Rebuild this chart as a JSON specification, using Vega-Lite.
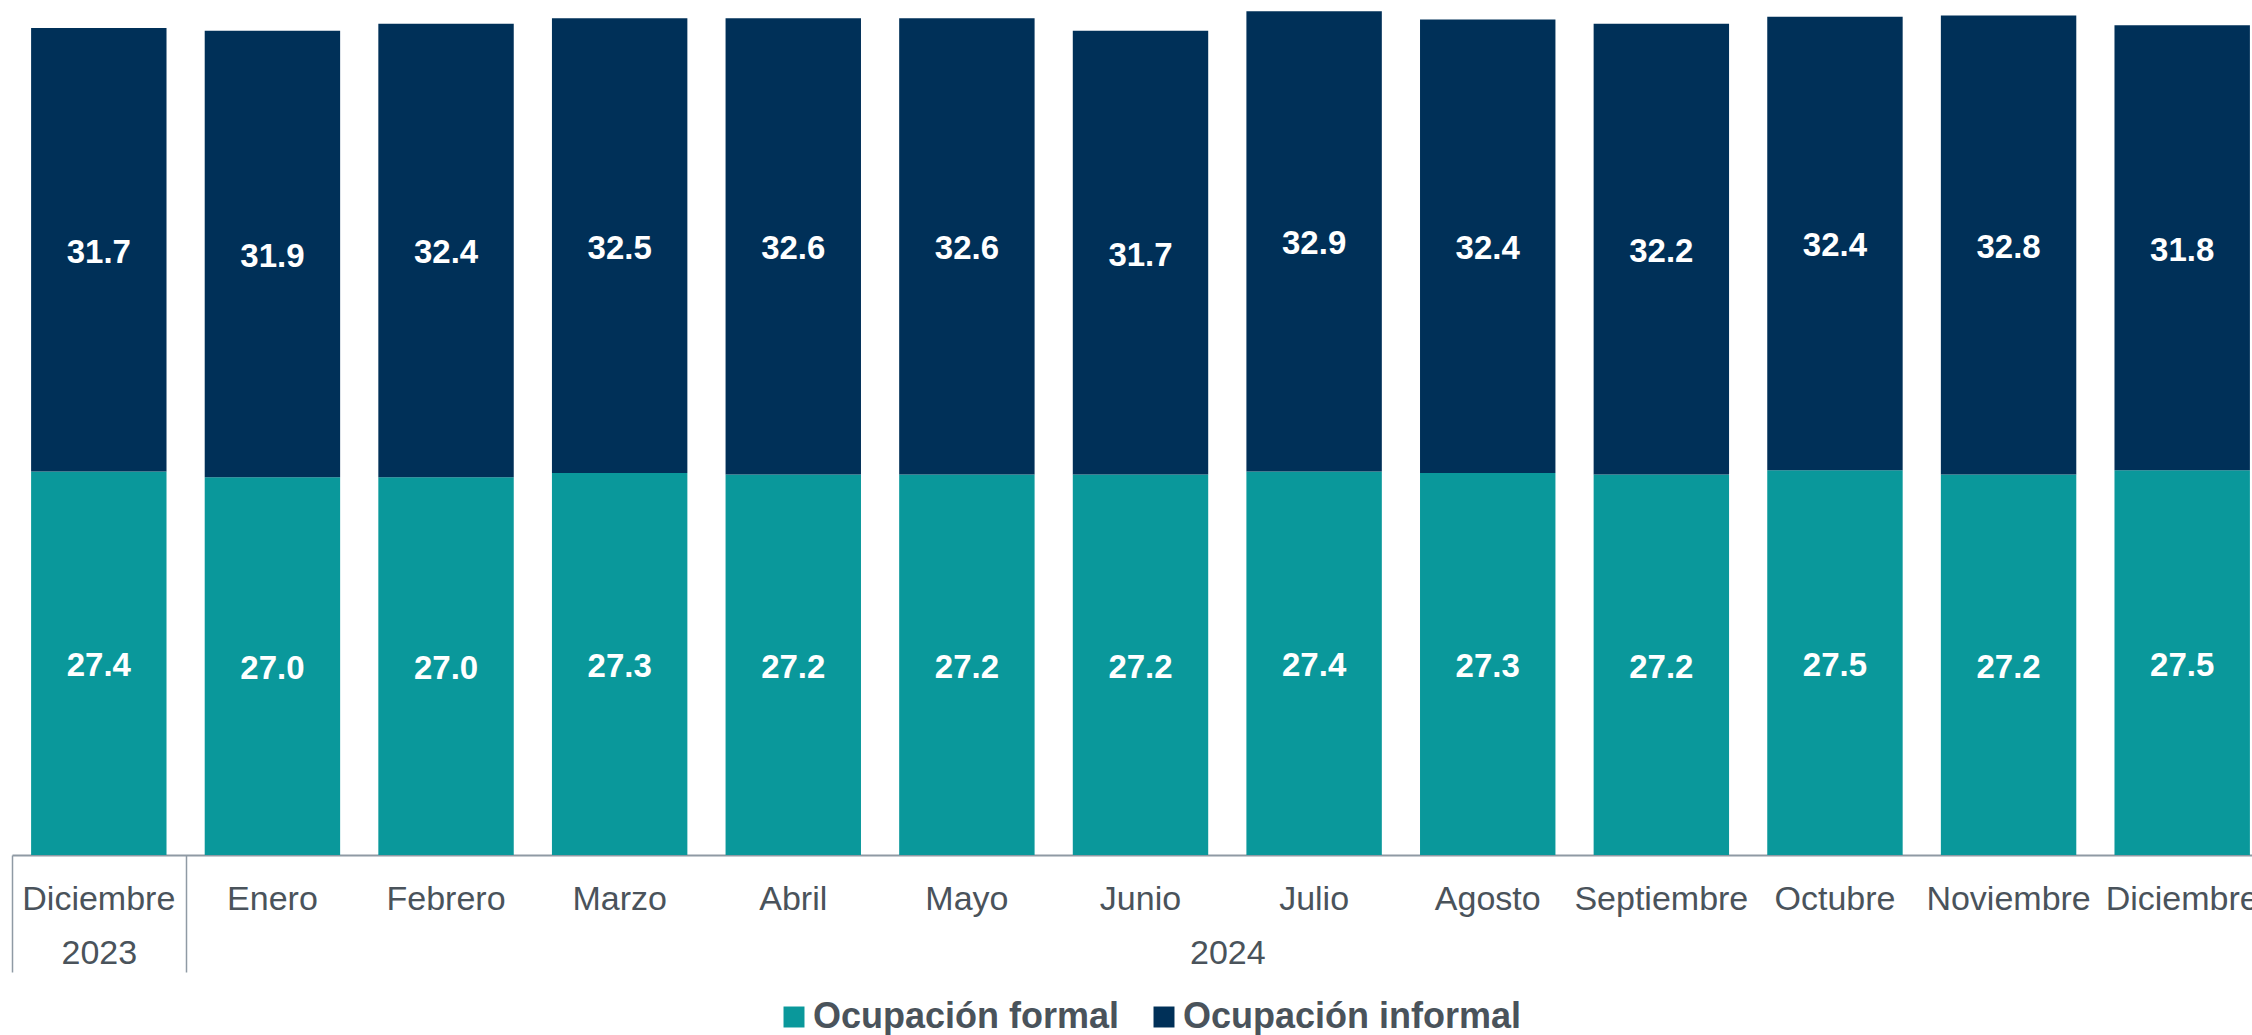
{
  "$schema": "https://vega.github.io/schema/vega-lite/v6.json",
  "autosize": {"type": "none"},
  "padding": {"left": 12, "top": 0, "right": 0, "bottom": 180},
  "width": 2240,
  "height": 855,
  "config": {"view": {"stroke": null}, "font": "Liberation Sans"},
  "layer": [
    {
      "data": {"values": [
        {"idx": 0, "tipo": "Ocupación formal", "orden": 0, "valor": 27.4},
        {"idx": 0, "tipo": "Ocupación informal", "orden": 1, "valor": 31.7},
        {"idx": 1, "tipo": "Ocupación formal", "orden": 0, "valor": 27.0},
        {"idx": 1, "tipo": "Ocupación informal", "orden": 1, "valor": 31.9},
        {"idx": 2, "tipo": "Ocupación formal", "orden": 0, "valor": 27.0},
        {"idx": 2, "tipo": "Ocupación informal", "orden": 1, "valor": 32.4},
        {"idx": 3, "tipo": "Ocupación formal", "orden": 0, "valor": 27.3},
        {"idx": 3, "tipo": "Ocupación informal", "orden": 1, "valor": 32.5},
        {"idx": 4, "tipo": "Ocupación formal", "orden": 0, "valor": 27.2},
        {"idx": 4, "tipo": "Ocupación informal", "orden": 1, "valor": 32.6},
        {"idx": 5, "tipo": "Ocupación formal", "orden": 0, "valor": 27.2},
        {"idx": 5, "tipo": "Ocupación informal", "orden": 1, "valor": 32.6},
        {"idx": 6, "tipo": "Ocupación formal", "orden": 0, "valor": 27.2},
        {"idx": 6, "tipo": "Ocupación informal", "orden": 1, "valor": 31.7},
        {"idx": 7, "tipo": "Ocupación formal", "orden": 0, "valor": 27.4},
        {"idx": 7, "tipo": "Ocupación informal", "orden": 1, "valor": 32.9},
        {"idx": 8, "tipo": "Ocupación formal", "orden": 0, "valor": 27.3},
        {"idx": 8, "tipo": "Ocupación informal", "orden": 1, "valor": 32.4},
        {"idx": 9, "tipo": "Ocupación formal", "orden": 0, "valor": 27.2},
        {"idx": 9, "tipo": "Ocupación informal", "orden": 1, "valor": 32.2},
        {"idx": 10, "tipo": "Ocupación formal", "orden": 0, "valor": 27.5},
        {"idx": 10, "tipo": "Ocupación informal", "orden": 1, "valor": 32.4},
        {"idx": 11, "tipo": "Ocupación formal", "orden": 0, "valor": 27.2},
        {"idx": 11, "tipo": "Ocupación informal", "orden": 1, "valor": 32.8},
        {"idx": 12, "tipo": "Ocupación formal", "orden": 0, "valor": 27.5},
        {"idx": 12, "tipo": "Ocupación informal", "orden": 1, "valor": 31.8}
      ]},
      "encoding": {
        "x": {
          "field": "idx", "type": "ordinal",
          "scale": {"range": [0, 2257], "paddingInner": 0.22, "paddingOuter": 0.11},
          "axis": {
            "orient": "bottom",
            "title": null,
            "ticks": false,
            "domainColor": "#8f9aa4",
            "domainWidth": 2,
            "labelAngle": 0,
            "labelFont": "Liberation Sans",
            "labelFontSize": 34,
            "labelColor": "#4a535b",
            "labelBaseline": "middle",
            "labelPadding": 44,
            "labelOverlap": false,
            "labelBound": false,
            "labelExpr": "['Diciembre','Enero','Febrero','Marzo','Abril','Mayo','Junio','Julio','Agosto','Septiembre','Octubre','Noviembre','Diciembre'][datum.value]"
          }
        },
        "y": {
          "field": "valor", "type": "quantitative", "stack": "zero",
          "scale": {"domain": [0, 61.1], "nice": false},
          "axis": null
        },
        "order": {"field": "orden", "type": "quantitative", "sort": "ascending"}
      },
      "layer": [
        {
          "mark": {"type": "bar"},
          "encoding": {
            "color": {
              "field": "tipo", "type": "nominal",
              "scale": {"domain": ["Ocupación formal", "Ocupación informal"], "range": ["#0a989b", "#003058"]},
              "legend": {
                "orient": "none",
                "legendX": 764,
                "legendY": 999,
                "direction": "horizontal",
                "title": null,
                "symbolType": "square",
                "symbolSize": 440,
                "symbolStrokeWidth": 0,
                "labelFont": "Liberation Sans",
                "labelFontSize": 36,
                "labelFontWeight": "bold",
                "labelColor": "#4a535b",
                "labelLimit": 0,
                "labelOffset": 1,
                "columnPadding": 26,
                "padding": 0
              }
            }
          }
        },
        {
          "mark": {
            "type": "text", "color": "white", "fontWeight": "bold", "fontSize": 33,
            "font": "Liberation Sans", "baseline": "middle",
            "dy": {"expr": "(scale('y', 0) - scale('y', datum.valor)) / 2 + 3"}
          },
          "encoding": {
            "detail": {"field": "tipo"},
            "text": {"field": "valor", "type": "quantitative", "format": ".1f"}
          }
        }
      ]
    },
    {
      "data": {"values": [
        {"grupo": "2023", "centro": 0.5},
        {"grupo": "2024", "centro": 7}
      ]},
      "mark": {"type": "point", "opacity": 0},
      "encoding": {
        "x": {
          "field": "centro", "type": "quantitative",
          "scale": {"domain": [0, 13], "range": [0, 2257], "nice": false, "zero": false},
          "axis": {
            "orient": "bottom",
            "title": null,
            "domain": false,
            "grid": false,
            "values": [0, 0.5, 1, 7, 13],
            "tickSize": 117,
            "tickWidth": 1.5,
            "tickColor": "#8f9aa4",
            "tickOpacity": {"condition": {"test": "datum.value == 0.5 || datum.value == 7", "value": 0}, "value": 1},
            "labelFont": "Liberation Sans",
            "labelFontSize": 34,
            "labelColor": "#4a535b",
            "labelBaseline": "middle",
            "labelPadding": -19,
            "labelOverlap": false,
            "labelFlush": false,
            "labelBound": false,
            "labelExpr": "datum.value == 0.5 ? '2023' : datum.value == 7 ? '2024' : ''"
          }
        }
      }
    }
  ],
  "resolve": {"scale": {"x": "independent"}, "axis": {"x": "independent"}}
}
